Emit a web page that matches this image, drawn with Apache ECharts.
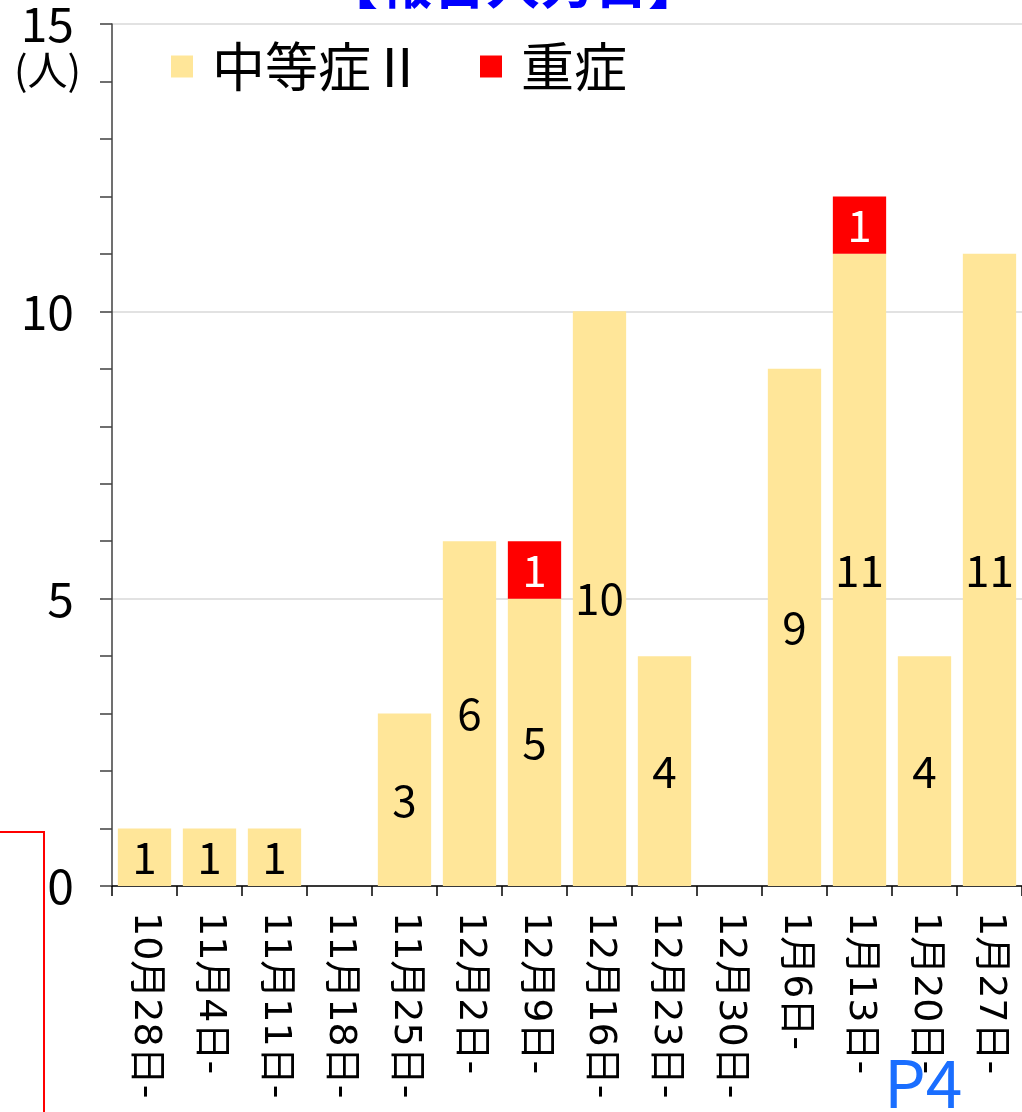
<!DOCTYPE html>
<html>
<head>
<meta charset="utf-8">
<style>
  html, body { margin: 0; padding: 0; background: #ffffff; }
  #chart { width: 1022px; height: 1112px; }
</style>
<script src="https://cdn.jsdelivr.net/npm/echarts@6/dist/echarts.min.js"></script>
</head>
<body>
<div id="chart"></div>
<script>
// Weekly counts by report-entry week
const weeks = ['10月28日-', '11月4日-', '11月11日-', '11月18日-', '11月25日-', '12月2日-', '12月9日-',
               '12月16日-', '12月23日-', '12月30日-', '1月6日-', '1月13日-', '1月20日-', '1月27日-'];
const moderateII = [1, 1, 1, 0, 3, 6, 5, 10, 4, 0, 9, 11, 4, 11];
const severe = [0, 0, 0, 0, 0, 0, 1, 0, 0, 0, 0, 1, 0, 0];
const yTicks = { min: 0, max: 15, interval: 5 };

const FONT = '"Noto Sans CJK JP", "Noto Sans", sans-serif';
const WIDE = '"DejaVu Sans", "Noto Sans CJK JP", sans-serif';
const chart = echarts.init(document.getElementById('chart'), null, { renderer: 'canvas' });

const hideZero = p => (p.value ? String(p.value) : '');

chart.setOption({
  backgroundColor: '#ffffff',
  animation: false,
  textStyle: { fontFamily: FONT },
  grid: { left: 112, top: 24, width: 913, bottom: 226, containLabel: false },
  legend: {
    left: 166, top: 35,
    itemWidth: 22, itemHeight: 22, itemGap: 56,
    icon: 'rect',
    textStyle: { fontSize: 53, color: '#000000', fontFamily: FONT, padding: [0, 0, 0, 14] },
    data: ['中等症Ⅱ', '重症']
  },
  xAxis: {
    type: 'category',
    data: weeks,
    axisLine: { lineStyle: { color: '#000000', width: 1.5 } },
    axisTick: { show: true, length: 10, lineStyle: { color: '#000000', width: 1.5 } },
    axisLabel: { rotate: -90, fontSize: 38, color: '#000000', margin: 26, fontFamily: WIDE, interval: 0 }
  },
  yAxis: {
    type: 'value',
    min: yTicks.min, max: yTicks.max, interval: yTicks.interval,
    axisLine: { show: true, lineStyle: { color: '#404040', width: 1.5 } },
    axisTick: { show: true, length: 12, lineStyle: { color: '#404040', width: 1.5 } },
    minorTick: { show: true, splitNumber: 5, length: 12, lineStyle: { color: '#404040', width: 1.5 } },
    splitLine: { show: true, lineStyle: { color: '#d9d9d9', width: 1.5 } },
    axisLabel: { fontSize: 48, color: '#000000', margin: 38, fontFamily: FONT }
  },
  series: [
    {
      name: '中等症Ⅱ', type: 'bar', stack: 'total',
      data: moderateII, barCategoryGap: '18%',
      itemStyle: { color: '#FFE699' },
      label: { show: true, position: 'inside', formatter: hideZero, fontSize: 44, color: '#000000', fontFamily: FONT }
    },
    {
      name: '重症', type: 'bar', stack: 'total',
      data: severe, barCategoryGap: '18%',
      itemStyle: { color: '#FF0000' },
      label: { show: true, position: 'inside', formatter: hideZero, fontSize: 44, color: '#ffffff', fontFamily: FONT }
    }
  ],
  graphic: [
    {
      type: 'text', left: 324, top: -44,
      style: { text: '【報告入力日】', fill: '#0000FF', font: 'bold 54px ' + FONT }
    },
    {
      type: 'text', left: 14, top: 50,
      style: { text: '(人)', fill: '#000000', font: '40px ' + FONT }
    },
    {
      type: 'rect', shape: { x: -10, y: 832, width: 54, height: 400 },
      style: { fill: 'none', stroke: '#FF0000', lineWidth: 2 }, z: 10
    },
    {
      type: 'text', left: 884, top: 1050,
      style: { text: 'P4', fill: '#1A6EFF', font: '66px ' + FONT }, z: 10
    }
  ]
});
</script>
</body>
</html>
